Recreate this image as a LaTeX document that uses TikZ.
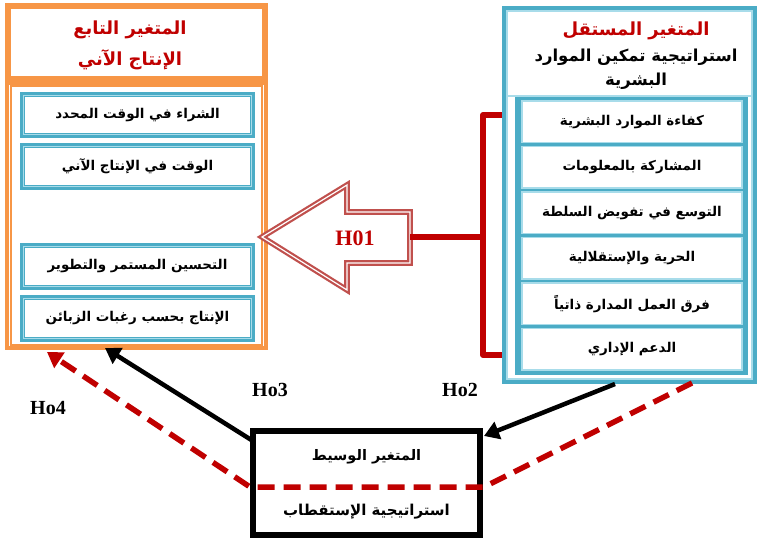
\documentclass[tikz,border=0pt]{standalone}
\usepackage{fontspec}
\TeXXeTstate=1
\newfontfamily\arabicfont[Script=Arabic]{DejaVu Sans}
\newfontfamily\latserif{Liberation Serif}
\usetikzlibrary{arrows.meta}
\newcommand\artx[1]{{\arabicfont\bfseries\beginR #1\endR}}
\definecolor{orng}{HTML}{F79646}
\definecolor{tealb}{HTML}{4BACC6}
\definecolor{ltblue}{HTML}{A8DCEA}
\definecolor{dred}{HTML}{C00000}
\definecolor{arrred}{HTML}{C0504D}
\begin{document}
\begin{tikzpicture}[x=1pt,y=-1pt,
  lbox/.style={draw=tealb, line width=5pt, fill=white, minimum width=230pt, minimum height=42pt, inner sep=0pt, font=\fontsize{13.5}{16}\selectfont},
  rbox/.style={draw=ltblue, line width=1.3pt, fill=white, minimum width=220pt, minimum height=41.5pt, inner sep=0pt, font=\fontsize{13.5}{16}\selectfont},
  ltline/.style={draw=ltblue, line width=1.3pt},
  oline/.style={draw=orng, line width=1.2pt},
  blkarrow/.style={draw=black, line width=4.5pt, -{Triangle[length=15pt,width=18pt]}},
  dasharrow/.style={draw=dred, line width=5.5pt, dash pattern=on 17pt off 9pt, -{Triangle[length=15pt,width=18pt]}},
  holabel/.style={font=\latserif\bfseries\fontsize{20}{22}\selectfont}]
\useasboundingbox (0,0) rectangle (761,541);
\fill[white] (0,0) rectangle (761,541);

% ---------- left (dependent variable) ----------
\node[draw=orng, line width=4pt, fill=white, minimum width=259pt, minimum height=265pt, inner sep=0pt] (lframe) at (136.5,215.5) {};
\draw[oline] ([shift={(6,5)}]lframe.north west) rectangle ([shift={(-6,-5)}]lframe.south east);
\node[draw=orng, line width=4pt, fill=white, minimum width=259pt, minimum height=75pt, inner sep=0pt] (ltitle) at (136.5,42.5) {};
\draw[oline] ([shift={(5,5)}]ltitle.north west) rectangle ([shift={(-5,-5)}]ltitle.south east);
\node[text=dred, font=\fontsize{18}{20}\selectfont] (lt1) at (130,30) {\artx{المتغير التابع}};
\node[text=dred, font=\fontsize{18}{20}\selectfont] (lt2) at (130,60) {\artx{الإنتاج الآني}};

\node[lbox, minimum height=41pt] (l1) at (137.5,115) {\artx{الشراء في الوقت المحدد}};
\node[lbox] (l2) at (137.5,166.5) {\artx{الوقت في الإنتاج الآني}};
\node[lbox] (l3) at (137.5,266.5) {\artx{التحسين المستمر والتطوير}};
\node[lbox] (l4) at (137.5,318.5) {\artx{الإنتاج بحسب رغبات الزبائن}};
\foreach \b in {l1,l2,l3,l4}
  \draw[ltline] ([shift={(3.5,3.5)}]\b.north west) rectangle ([shift={(-3.5,-3.5)}]\b.south east);

% ---------- bracket and H01 arrow ----------
\coordinate (brtop) at (509,115);
\coordinate (brtl) at (483,115);
\coordinate (brbl) at (483,355);
\coordinate (brbot) at (509,355);
\coordinate (brmid) at (483,237);
\draw[dred, line width=6pt, line join=round] (brtop) -- (brtl) -- (brbl) -- (brbot);

\draw[arrred, fill=white, line width=2.2pt, double=white, double distance=1.2pt, line join=miter]
  (262,237) -- (347,185) -- (347,212) -- (410,212) -- (410,263) -- (347,263) -- (347,290) -- cycle;
\coordinate (h01tail) at (410,237);
\draw[dred, line width=6pt] (brmid) -- (h01tail);
\node[text=dred, font=\latserif\bfseries\fontsize{22}{24}\selectfont] (h01) at (355,238) {H01};

% ---------- right (independent variable) ----------
\node[draw=tealb, line width=4pt, fill=white, minimum width=251pt, minimum height=374pt, inner sep=0pt] (rframe) at (629.5,195) {};
\draw[ltline] ([shift={(5,5)}]rframe.north west) rectangle ([shift={(-5,-5)}]rframe.south east);
\draw[ltline] (508,96) -- (751,96);
\fill[tealb] (515,97) rectangle (748,375);
\node[text=dred, font=\fontsize{18}{20}\selectfont] (rt1) at (636,31) {\artx{المتغير المستقل}};
\node[font=\fontsize{16.5}{19}\selectfont] (rt2) at (636,57) {\artx{استراتيجية تمكين الموارد}};
\node[font=\fontsize{16.5}{19}\selectfont] (rt3) at (636,81) {\artx{البشرية}};

\node[rbox] (r1) at (632,121.75) {\artx{كفاءة الموارد البشرية}};
\node[rbox] (r2) at (632,167.25) {\artx{المشاركة بالمعلومات}};
\node[rbox] (r3) at (632,212.75) {\artx{التوسع في تفويض السلطة}};
\node[rbox] (r4) at (632,258.25) {\artx{الحرية والإستقلالية}};
\node[rbox] (r5) at (632,303.75) {\artx{فرق العمل المدارة ذاتياً}};
\node[rbox] (r6) at (632,349.25) {\artx{الدعم الإداري}};

% ---------- mediator ----------
\coordinate (ho3start) at (253,441);
\coordinate (ho3end) at (105,348);
\draw[blkarrow] (ho3start) -- (ho3end);
\coordinate (ho2start) at (615,384);
\coordinate (ho2end) at (484,436);
\draw[blkarrow] (ho2start) -- (ho2end);

\node[draw=black, line width=6pt, fill=white, minimum width=227pt, minimum height=104pt, inner sep=0pt] (med) at (366.5,483) {};
\node[font=\fontsize{14.5}{17}\selectfont] (m1) at (366.5,457) {\artx{المتغير الوسيط}};
\node[font=\fontsize{15}{18}\selectfont] (m2) at (366.5,512) {\artx{استراتيجية الإستقطاب}};

\coordinate (d1) at (692,383);
\coordinate (d2) at (484,487);
\coordinate (d3) at (250,487);
\coordinate (d4) at (47,352);
\draw[dasharrow] (d1) -- (d2) -- (d3) -- (d4);

\node[holabel] (ho3) at (270,390) {Ho3};
\node[holabel] (ho2) at (460,390) {Ho2};
\node[holabel] (ho4) at (48,408) {Ho4};
\end{tikzpicture}
\end{document}
